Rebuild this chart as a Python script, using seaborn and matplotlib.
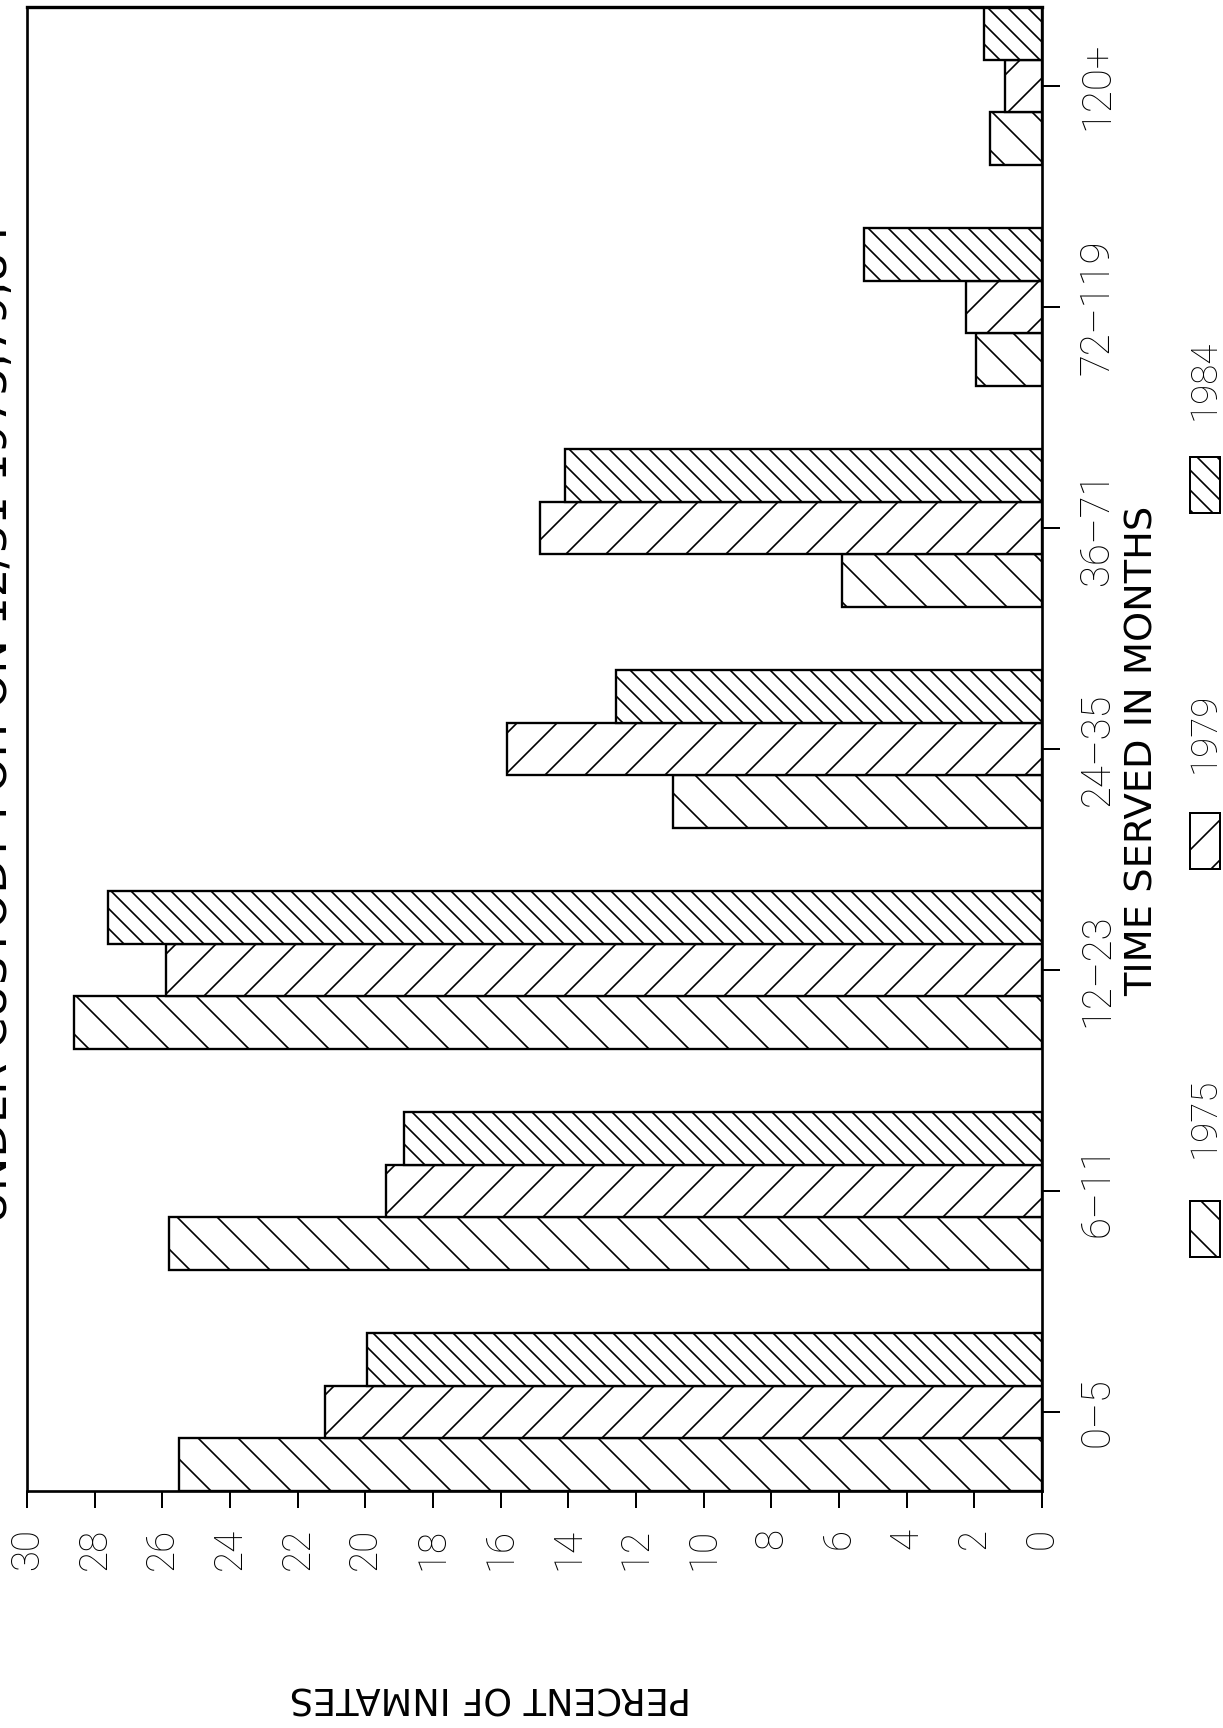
import matplotlib
matplotlib.use("Agg")
import matplotlib.pyplot as plt
from matplotlib.patches import Rectangle
from matplotlib.font_manager import FontProperties
import pandas as pd
import seaborn as sns

# ---------------- data ----------------
months = ["0–5", "6–11", "12–23", "24–35", "36–71", "72–119", "120+"]
years = ["1975", "1979", "1984"]
pct_1975 = [25.5, 25.8, 28.6, 10.9, 5.9, 1.95, 1.55]
pct_1979 = [21.2, 19.4, 25.9, 15.8, 14.85, 2.25, 1.1]
pct_1984 = [19.95, 18.85, 27.6, 12.6, 14.1, 5.25, 1.7]
x_ticks = list(range(0, 31, 2))
title = "UNDER CUSTODY POP. ON 12/31 1975,79,84"
xlabel = "PERCENT OF INMATES"
ylabel = "TIME SERVED IN MONTHS"

# ---------------- style ----------------
sns.set_theme(style="white")
WIDE = ["DejaVu Sans"]
plt.rcParams["font.family"] = WIDE
plt.rcParams["hatch.linewidth"] = 0.5
plt.rcParams["hatch.color"] = "black"

W, H, DPI = 1223, 1728, 240
fig = plt.figure(figsize=(W / DPI, H / DPI), dpi=DPI)
fig.patch.set_facecolor("white")


def fx(px):
    return px / W


def fy(py):
    return 1 - py / H


def narrow(size):
    return FontProperties(family=["Roboto", "DejaVu Sans"], weight="light",
                          size=size)


ax = fig.add_axes([fx(27), fy(1491), fx(1042) - fx(27), fy(7) - fy(1491)])
ax.set_facecolor("white")

df = pd.DataFrame({
    "months": months * 3,
    "year": [y for y in years for _ in months],
    "percent": pct_1975 + pct_1979 + pct_1984,
})

GROUP_W = 0.715
sns.barplot(data=df, x="percent", y="months", hue="year", order=months,
            hue_order=years, orient="h", width=GROUP_W,
            palette={y: "white" for y in years}, edgecolor="black",
            linewidth=0.7, saturation=1, legend=False, errorbar=None, ax=ax)

hatches = {"1975": "\\\\", "1979": "//", "1984": "\\\\\\\\"}
for cont, yr in zip(ax.containers, years):
    for bar in cont:
        bar.set_hatch(hatches[yr])
        bar.set_edgecolor("black")

# rotated layout: 0 at right, 30 at left; 0-5 at bottom
ax.set_xlim(30, 0)
ax.set_ylim(-GROUP_W / 2, len(months) - 1 + GROUP_W / 2)

ax.set_xticks(x_ticks)
ax.set_xticklabels([str(v) for v in x_ticks], rotation=90)
ax.tick_params(axis="x", bottom=True, top=False, direction="out", length=5.1,
               width=0.6, pad=6, colors="black")
for lab in ax.get_xticklabels():
    lab.set_fontproperties(narrow(11.5))

ax.yaxis.tick_right()
ax.tick_params(axis="y", right=True, left=False, direction="out", length=5.4,
               width=0.6, pad=5.4, colors="black")
for lab in ax.get_yticklabels():
    lab.set_rotation(90)
    lab.set_va("center")
    lab.set_fontproperties(narrow(12))

ax.set_xlabel("")
ax.set_ylabel("")
for s in ax.spines.values():
    s.set_visible(True)
    s.set_color("black")
    s.set_linewidth(0.8)
ax.spines["top"].set_linewidth(1.0)

# axis titles and title (rotated like the scanned page)
fig.text(fx(490), fy(1697), xlabel, rotation=180, ha="center", va="center",
         fontsize=11, color="black", family=WIDE)
fig.text(fx(1143), fy(751), ylabel, rotation=90, ha="center", va="center",
         fontsize=11.5, color="black", family=WIDE)
fig.text(fx(7), fy(1223), title, rotation=90, rotation_mode="anchor",
         ha="left", va="baseline", fontsize=13.5, color="black", family=WIDE)

# legend (rotated), drawn by hand: (box top px, text centre px)
legend_pos = {"1975": (1201, 1118), "1979": (813, 733), "1984": (457, 380)}
for yr in years:
    box_top, text_c = legend_pos[yr]
    x0, x1 = 1190, 1220
    y0, y1 = box_top, box_top + 56
    rect = Rectangle((fx(x0), fy(y1)), fx(x1) - fx(x0), fy(y0) - fy(y1),
                     transform=fig.transFigure, facecolor="white",
                     edgecolor="black", linewidth=0.6, hatch=hatches[yr])
    fig.add_artist(rect)
    fig.text(fx(1205), fy(text_c), yr, rotation=90, ha="center", va="center",
             fontproperties=narrow(11), color="black")

fig.savefig("out.png", dpi=DPI, facecolor="white")
